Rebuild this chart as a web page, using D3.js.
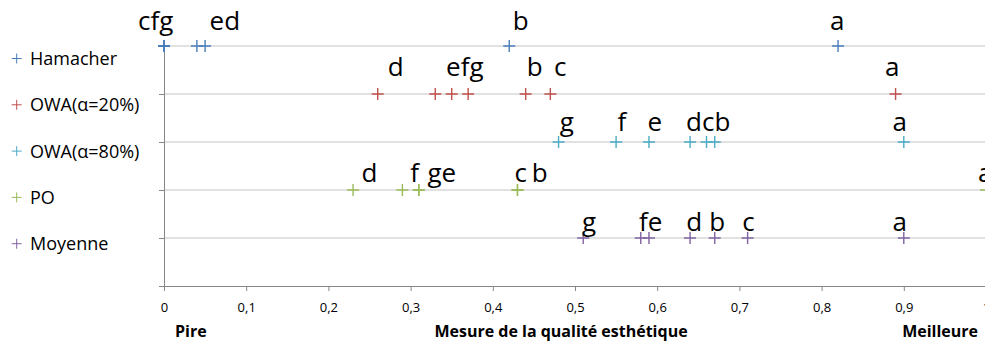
<!DOCTYPE html>
<html>
<head>
<meta charset="utf-8">
<script src="https://cdn.jsdelivr.net/npm/d3@7"></script>
<style>
  html, body { margin: 0; padding: 0; background: #fff; }
  svg { display: block; font-family: "Open Sans", sans-serif; }
</style>
</head>
<body>
<div id="chart"></div>
<script>
// ---- data ----
const categories = ["a", "b", "c", "d", "e", "f", "g"];
const seriesNames = ["Hamacher", "OWA(α=20%)", "OWA(α=80%)", "PO", "Moyenne"];
const rowLevels = [5, 4, 3, 2, 1];
const hamacher = [0.82, 0.42, 0.00, 0.05, 0.04, 0.00, 0.00];
const owa20    = [0.89, 0.44, 0.47, 0.26, 0.33, 0.35, 0.37];
const owa80    = [0.90, 0.67, 0.66, 0.64, 0.59, 0.55, 0.48];
const po       = [1.00, 0.43, 0.43, 0.23, 0.31, 0.29, 0.31];
const moyenne  = [0.90, 0.67, 0.71, 0.64, 0.59, 0.58, 0.51];
// data labels: [text, value on the x axis where the label is centred]
const hamacherLabels = [["cfg", -0.010], ["ed", 0.074], ["b", 0.434], ["a", 0.819]];
const owa20Labels    = [["d", 0.282], ["efg", 0.366], ["b", 0.451], ["c", 0.482], ["a", 0.886]];
const owa80Labels    = [["g", 0.490], ["f", 0.557], ["e", 0.597], ["dcb", 0.662], ["a", 0.895]];
const poLabels       = [["d", 0.250], ["f", 0.305], ["ge", 0.338], ["c", 0.434], ["b", 0.457], ["a", 0.999]];
const moyenneLabels  = [["g", 0.517], ["fe", 0.592], ["d", 0.645], ["b", 0.673], ["c", 0.711], ["a", 0.895]];
const xTicks = [0, 0.1, 0.2, 0.3, 0.4, 0.5, 0.6, 0.7, 0.8, 0.9, 1];
const axisTitle = "Mesure de la qualité esthétique";
const worstLabel = "Pire";
const bestLabel = "Meilleure";

// ---- layout / style ----
const W = 985, H = 342;
const colors = ["#4A7EBB", "#C0504D", "#4BACC6", "#9BBB59", "#8064A2"];
const seriesValues = [hamacher, owa20, owa80, po, moyenne];
const seriesLabels = [hamacherLabels, owa20Labels, owa80Labels, poLabels, moyenneLabels];
const labelLift = [16.5, 17.6, 10.6, 8.5, 6.6];

const x = d3.scaleLinear().domain([0, 1]).range([164, 986]);
const y = d3.scaleLinear().domain([0, 5]).range([286, 46]);

const svg = d3.select("#chart").append("svg")
  .attr("width", W).attr("height", H);
svg.append("rect").attr("width", W).attr("height", H).attr("fill", "#fff");

// gridlines
svg.append("g").selectAll("line")
  .data([1, 2, 3, 4, 5])
  .join("line")
  .attr("x1", x(0)).attr("x2", x(1))
  .attr("y1", d => y(d)).attr("y2", d => y(d))
  .attr("stroke", "#c4c4c4").attr("stroke-width", 1);

// x axis
const xAxis = svg.append("g")
  .attr("transform", `translate(0,${y(0)})`)
  .call(d3.axisBottom(x).tickValues(xTicks).tickSize(5).tickSizeOuter(0)
    .tickFormat(d => String(+d.toFixed(1)).replace(".", ",")));
xAxis.select(".domain").attr("stroke", "#868686");
xAxis.selectAll(".tick line").attr("stroke", "#868686");
xAxis.selectAll(".tick text")
  .attr("font-family", "Open Sans").attr("font-size", 13)
  .attr("fill", "#000").attr("dy", null).attr("y", 25.8);

// y axis
const yAxis = svg.append("g")
  .attr("transform", `translate(${x(0)},0)`)
  .call(d3.axisLeft(y).tickValues([0, 1, 2, 3, 4, 5]).tickSize(5).tickSizeOuter(0).tickFormat(""));
yAxis.select(".domain").attr("stroke", "#868686");
yAxis.selectAll(".tick line").attr("stroke", "#868686");

// markers
const plus = (g, cx, cy, r, color, sw) => {
  g.append("path")
    .attr("d", `M${cx - r},${cy}H${cx + r}M${cx},${cy - r}V${cy + r}`)
    .attr("stroke", color).attr("stroke-width", sw).attr("fill", "none");
};
const marks = svg.append("g");
seriesValues.forEach((vals, si) => {
  const g = marks.append("g");
  vals.forEach((v, ci) => {
    plus(g, x(v), y(rowLevels[si]), 6, colors[si], 1.4);
  });
});

// data labels
const labels = svg.append("g")
  .attr("font-family", "Open Sans").attr("font-size", 26).attr("fill", "#000")
  .attr("text-anchor", "middle");
seriesLabels.forEach((arr, si) => {
  labels.selectAll(null)
    .data(arr)
    .join("text")
    .attr("x", d => x(d[1]))
    .attr("y", y(rowLevels[si]) - labelLift[si])
    .text(d => d[0]);
});

// legend
const legend = svg.append("g");
seriesNames.forEach((name, i) => {
  const by = 65 + i * 46.3;
  plus(legend, 16.7, by - 6.5, 5, colors[i], 1);
  legend.append("text")
    .attr("x", 30).attr("y", by)
    .attr("font-family", "Open Sans").attr("font-size", 18).attr("fill", "#000")
    .text(name);
});

// axis titles
const titles = svg.append("g")
  .attr("font-family", "Open Sans").attr("font-size", 16).attr("font-weight", "bold").attr("fill", "#000");
titles.append("text").attr("x", x(0) + 11).attr("y", 337).text(worstLabel);
titles.append("text").attr("x", (x(0) + x(1)) / 2 - 14).attr("y", 337)
  .attr("text-anchor", "middle").text(axisTitle);
titles.append("text").attr("x", x(1) - 8).attr("y", 337)
  .attr("text-anchor", "end").text(bestLabel);
</script>
</body>
</html>
